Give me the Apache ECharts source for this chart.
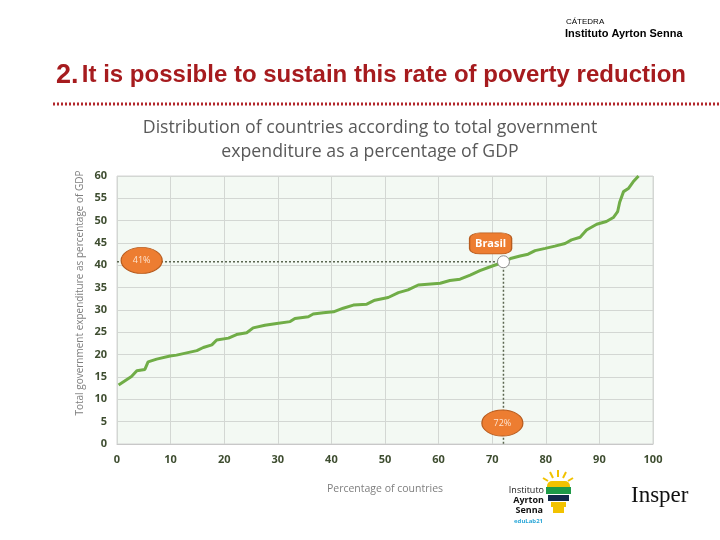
<!DOCTYPE html>
<html><head><meta charset="utf-8">
<script src="https://cdn.jsdelivr.net/npm/echarts@6/dist/echarts.min.js"></script>
<style>html,body{margin:0;padding:0;background:#fff}#c{width:720px;height:540px}</style>
</head><body><div id="c"></div>
<script>
// Percentage of countries (x) and total government expenditure as % of GDP (y)
const pctCountries = [0.3,2.7,3.7,5.2,5.8,7.4,9.9,11.1,13,14.9,16.1,17.7,18.6,20.8,22.3,24.2,25.4,27.6,29.8,32.3,33.2,35.7,36.6,38.5,40.4,42.2,44.1,46.6,48.1,50.6,52.5,54.3,56.2,60.3,62.1,64.0,65.9,67.7,69.9,71.1,72.1,73.6,75.2,76.7,78.0,79.9,81.7,83.6,84.8,86.4,87.6,89.5,91.3,92.6,93.4,93.8,94.5,95.4,96.3,97.3];
const expenditure  = [13.2,15.1,16.4,16.7,18.4,19.0,19.7,19.9,20.4,20.9,21.6,22.2,23.3,23.7,24.5,24.9,26.0,26.6,27.0,27.4,28.1,28.5,29.1,29.4,29.6,30.4,31.1,31.3,32.2,32.8,33.9,34.5,35.6,36.0,36.6,36.9,37.8,38.8,39.8,40.3,40.8,41.6,42.1,42.5,43.3,43.8,44.3,44.9,45.7,46.3,47.9,49.2,49.8,50.7,52.0,54.2,56.5,57.2,58.7,60.0];
const brasilPoint = [72.1, 40.8];
const brasilLabel = "Brasil";
const yValueLabel = "41%";
const xValueLabel = "72%";
const yTicks = {min:0, max:60, interval:5};
const xTicks = {min:0, max:100, interval:10};

const chart = echarts.init(document.getElementById('c'), null, {renderer:'canvas'});
const lineData = pctCountries.map((x,i)=>[x, expenditure[i]]);
const tickColor = '#3e4d30';
const dotColor = '#5b6650';

chart.setOption({
  animation:false,
  backgroundColor:'#fff',
  grid:{left:117, right:67, top:176, bottom:96, show:true, backgroundColor:'#f3f9f3', borderColor:'#d4d4d4', borderWidth:1},
  xAxis:{type:'value', min:xTicks.min, max:xTicks.max, interval:xTicks.interval,
    name:'Percentage of countries', nameLocation:'middle', nameGap:40,
    nameTextStyle:{color:'#7f7f7f', fontSize:10.5, fontFamily:'Open Sans'},
    axisLine:{lineStyle:{color:'#c8c8c8'}}, axisTick:{show:false},
    axisLabel:{color:tickColor, fontWeight:'bold', fontSize:11, fontFamily:'Open Sans', margin:10},
    splitLine:{lineStyle:{color:'#d3d7d3'}}},
  yAxis:{type:'value', min:yTicks.min, max:yTicks.max, interval:yTicks.interval,
    axisLine:{show:false}, axisTick:{show:false},
    axisLabel:{color:tickColor, fontWeight:'bold', fontSize:11, fontFamily:'Open Sans', margin:10},
    splitLine:{lineStyle:{color:'#d3d7d3'}}},
  series:[
    {type:'line', data:lineData, symbol:'none', lineStyle:{color:'#70ad47', width:3}, z:3},
    {type:'line', data:[[xTicks.min, brasilPoint[1]], brasilPoint], symbol:'none', lineStyle:{color:dotColor, width:1.5, type:[2,2]}, z:2},
    {type:'line', data:[brasilPoint, [brasilPoint[0], yTicks.min]], symbol:'none', lineStyle:{color:dotColor, width:1.5, type:[2,2]}, z:2},
    {type:'scatter', data:[brasilPoint], symbol:'circle', symbolSize:12,
      itemStyle:{color:'#fff', borderColor:'#8c8c8c', borderWidth:1, opacity:1}, z:5},
    {type:'scatter', data:[[4.6, brasilPoint[1]+0.3], [brasilPoint[0]-0.2, 4.7]], symbol:'circle', symbolSize:[41,26],
      itemStyle:{color:'#ed7d31', borderColor:'#b85c1e', borderWidth:1, opacity:1}, z:6,
      label:{show:true, position:'inside', color:'#fde4d0', fontSize:9, fontFamily:'Open Sans',
        formatter:(p)=> p.dataIndex===0 ? yValueLabel : xValueLabel}},
    {type:'scatter', data:[[69.7, 44.9]], symbol:'roundRect', symbolSize:[42,21],
      itemStyle:{color:'#ed7d31', borderColor:'#b85c1e', borderWidth:1, opacity:1}, z:6,
      label:{show:true, position:'inside', color:'#fff', fontSize:11, fontWeight:'bold', fontFamily:'Open Sans',
        formatter:()=>brasilLabel}}
  ],
  graphic:[
    {type:'text', left:566, top:18, style:{text:'CÁTEDRA', fill:'#000', font:'8px "Liberation Sans"'}},
    {type:'text', left:565, top:28, style:{text:'Instituto Ayrton Senna', fill:'#000', font:'bold 11px "Liberation Sans"'}},
    {type:'text', left:56, top:62, style:{
      text:'{a|2.} {b|It is possible to sustain this rate of poverty reduction}',
      rich:{a:{fill:'#a61b1e', font:'bold 27px "Liberation Sans"'}, b:{fill:'#a61b1e', font:'bold 24px "Liberation Sans"'}}}},
    {type:'line', shape:{x1:53, y1:104, x2:720, y2:104}, style:{stroke:'#b2262b', lineWidth:3, lineDash:[2,2]}},
    {type:'text', x:370, y:116, style:{text:'Distribution of countries according to total government\nexpenditure as a percentage of GDP',
      fill:'#595959', font:'17.7px "Open Sans"', align:'center', lineHeight:24}},
    {type:'text', x:80, y:293, rotation:Math.PI/2, style:{text:'Total government expenditure as percentage of GDP', fill:'#7f7f7f', font:'10px "Open Sans"', align:'center', verticalAlign:'middle'}},
    // Instituto Ayrton Senna logo
    {type:'text', x:544, y:486, style:{text:'Instituto', fill:'#222', font:'9px "Open Sans"', align:'right'}},
    {type:'text', x:544, y:496, style:{text:'Ayrton', fill:'#111', font:'bold 9px "Open Sans"', align:'right'}},
    {type:'text', x:543, y:506, style:{text:'Senna', fill:'#111', font:'bold 9px "Open Sans"', align:'right'}},
    {type:'text', x:543, y:518, style:{text:'eduLab21', fill:'#2aa7d8', font:'bold 6px "Open Sans"', align:'right'}},
    {type:'group', children:[
      {type:'line', shape:{x1:558, y1:470, x2:558, y2:477}, style:{stroke:'#f2c200', lineWidth:2}},
      {type:'line', shape:{x1:550, y1:472, x2:553, y2:478}, style:{stroke:'#f2c200', lineWidth:2}},
      {type:'line', shape:{x1:566, y1:472, x2:563, y2:478}, style:{stroke:'#f2c200', lineWidth:2}},
      {type:'line', shape:{x1:543, y1:478, x2:548, y2:481}, style:{stroke:'#f2c200', lineWidth:2}},
      {type:'line', shape:{x1:573, y1:478, x2:568, y2:481}, style:{stroke:'#f2c200', lineWidth:2}},
      {type:'rect', shape:{x:547, y:481, width:23, height:6, r:[5,5,0,0]}, style:{fill:'#f2c200'}},
      {type:'rect', shape:{x:546, y:487, width:25, height:7}, style:{fill:'#1e9a48'}},
      {type:'rect', shape:{x:548, y:495, width:21, height:6}, style:{fill:'#13294b'}},
      {type:'rect', shape:{x:551, y:502, width:15, height:5}, style:{fill:'#f2c200'}},
      {type:'rect', shape:{x:553, y:507, width:11, height:6}, style:{fill:'#f2c200'}}
    ]},
    {type:'text', left:631, top:484, style:{text:'Insper', fill:'#111', font:'23px "Liberation Serif"'}}
  ]
});
</script></body></html>
